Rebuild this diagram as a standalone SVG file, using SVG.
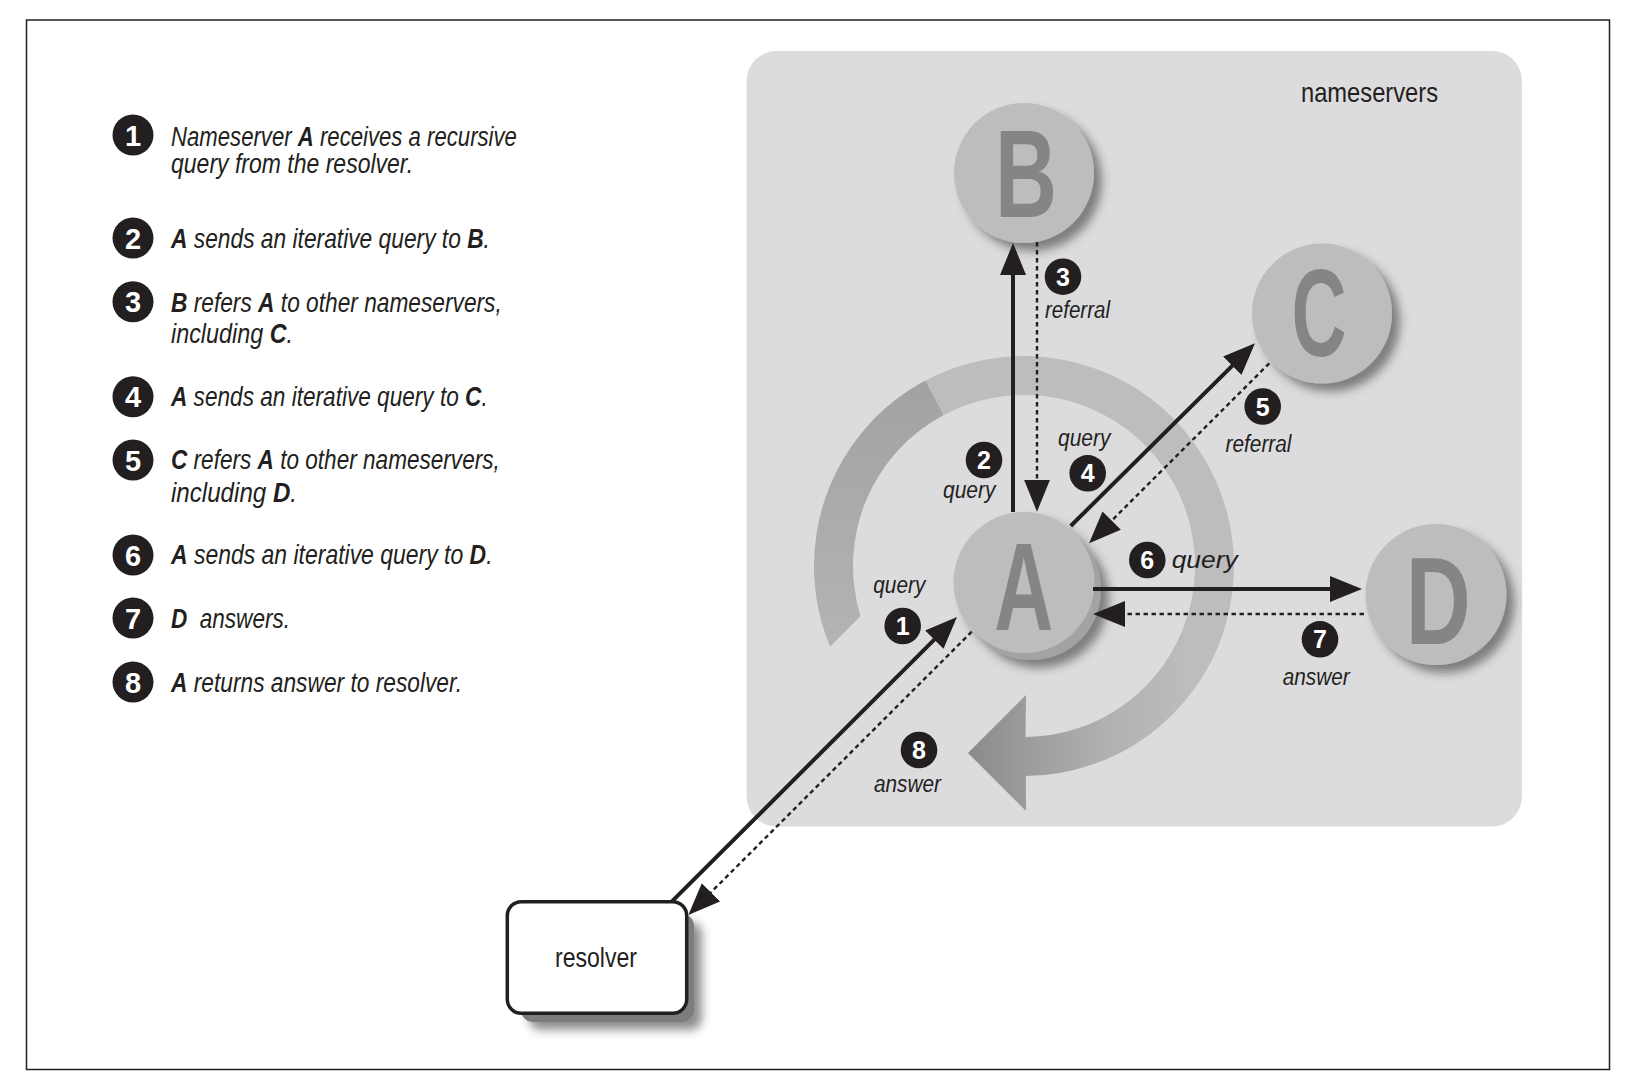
<svg xmlns="http://www.w3.org/2000/svg" width="1628" height="1084" viewBox="0 0 1628 1084">
<style>
.lg{font-family:"Liberation Sans",Arial,sans-serif;font-style:italic;font-size:27px;fill:#231f20;white-space:pre}
.b{font-weight:bold}
.lab{font-family:"Liberation Sans",Arial,sans-serif;font-style:italic;font-size:23px;fill:#231f20}
.up{font-family:"Liberation Sans",Arial,sans-serif;font-size:28px;fill:#231f20}
.num{font-family:"Liberation Sans",Arial,sans-serif;font-weight:bold;fill:#fff;text-anchor:middle}
.badge{fill:#231f20}
.big{font-family:"Liberation Sans",Arial,sans-serif;font-weight:bold;font-size:124px;fill:#858587;text-anchor:middle}
.ns{fill:#bdbdbf}
.solid{stroke:#231f20;stroke-width:4;fill:none;marker-end:url(#ah)}
.dot{stroke:#231f20;stroke-width:2.4;fill:none;stroke-dasharray:4.5 3.5;marker-end:url(#ah)}
</style>
<defs>
<marker id="ah" viewBox="0 0 32 26" refX="24" refY="13" markerWidth="32" markerHeight="26" markerUnits="userSpaceOnUse" orient="auto"><path d="M0,0L32,13L0,26z" fill="#231f20"/></marker>
<filter id="sh" x="-30%" y="-30%" width="170%" height="170%"><feGaussianBlur in="SourceAlpha" stdDeviation="5"/><feOffset dx="8" dy="8" result="o"/><feFlood flood-color="#333" flood-opacity="0.55"/><feComposite in2="o" operator="in"/><feMerge><feMergeNode/><feMergeNode in="SourceGraphic"/></feMerge></filter>
<linearGradient id="gArrow" gradientUnits="userSpaceOnUse" x1="1190" y1="0" x2="968" y2="0"><stop offset="0" stop-color="#bdbdbf"/><stop offset="0.4" stop-color="#b0b0b2"/><stop offset="0.7" stop-color="#9e9ea0"/><stop offset="1" stop-color="#8a8a8c"/></linearGradient>
<linearGradient id="gDark" gradientUnits="userSpaceOnUse" x1="0" y1="380" x2="0" y2="650"><stop offset="0" stop-color="#a2a1a3"/><stop offset="1" stop-color="#b4b4b6"/></linearGradient>
</defs>
<rect x="0" y="0" width="1628" height="1084" fill="#fff"/>
<rect id="frame" x="26.5" y="20" width="1583" height="1049.5" fill="none" stroke="#231f20" stroke-width="1.5"/>

<g id="legend">
<g id="legend-1"><circle class="badge" cx="133" cy="135" r="20.5"/><text class="num" x="133" y="145.5" font-size="29">1</text>
<text class="lg" transform="translate(171,146) scale(0.8207,1)">Nameserver <tspan class="b">A</tspan> receives a recursive</text>
<text class="lg" transform="translate(171,173) scale(0.852,1)">query from the resolver.</text></g>
<g id="legend-2"><circle class="badge" cx="133" cy="238" r="20.5"/><text class="num" x="133" y="248.5" font-size="29">2</text>
<text class="lg" transform="translate(171,248) scale(0.8436,1)"><tspan class="b">A</tspan> sends an iterative query to <tspan class="b">B</tspan>.</text></g>
<g id="legend-3"><circle class="badge" cx="133" cy="301.7" r="20.5"/><text class="num" x="133" y="312.2" font-size="29">3</text>
<text class="lg" transform="translate(171,311.7) scale(0.842,1)"><tspan class="b">B</tspan> refers <tspan class="b">A</tspan> to other nameservers,</text>
<text class="lg" transform="translate(171,342.7) scale(0.865,1)">including <tspan class="b">C</tspan>.</text></g>
<g id="legend-4"><circle class="badge" cx="133" cy="396.7" r="20.5"/><text class="num" x="133" y="407.2" font-size="29">4</text>
<text class="lg" transform="translate(171,405.7) scale(0.838,1)"><tspan class="b">A</tspan> sends an iterative query to <tspan class="b">C</tspan>.</text></g>
<g id="legend-5"><circle class="badge" cx="133" cy="460" r="20.5"/><text class="num" x="133" y="470.5" font-size="29">5</text>
<text class="lg" transform="translate(171,469) scale(0.837,1)"><tspan class="b">C</tspan> refers <tspan class="b">A</tspan> to other nameservers,</text>
<text class="lg" transform="translate(171,501.7) scale(0.894,1)">including <tspan class="b">D</tspan>.</text></g>
<g id="legend-6"><circle class="badge" cx="133" cy="555" r="20.5"/><text class="num" x="133" y="565.5" font-size="29">6</text>
<text class="lg" transform="translate(171,564) scale(0.851,1)"><tspan class="b">A</tspan> sends an iterative query to <tspan class="b">D</tspan>.</text></g>
<g id="legend-7"><circle class="badge" cx="133" cy="618" r="20.5"/><text class="num" x="133" y="628.5" font-size="29">7</text>
<text class="lg" transform="translate(171,628) scale(0.835,1)" xml:space="preserve"><tspan class="b">D</tspan>  answers.</text></g>
<g id="legend-8"><circle class="badge" cx="133" cy="682" r="20.5"/><text class="num" x="133" y="692.5" font-size="29">8</text>
<text class="lg" transform="translate(171,692) scale(0.8425,1)"><tspan class="b">A</tspan> returns answer to resolver.</text></g>
</g>

<g id="nameservers-panel">
<rect x="746.5" y="51" width="775.5" height="775.5" rx="30" fill="#dcdcde"/>
<text class="up" x="1301" y="102" textLength="137" lengthAdjust="spacingAndGlyphs">nameservers</text>
</g>

<g id="cycle-arrow">
<path d="M1223.9,630.9 A210 210 0 0 1 1025.8,776 L1026,811 L968,753 L1026,695 L1025.5,737 A171 171 0 0 0 1186.6,618.8 Z" fill="url(#gArrow)"/>
<path d="M925.4,380.6 A210 210 0 0 1 1221.3,637.8 L1184.7,624.5 A171 171 0 0 0 943.7,415 Z" fill="#bdbdbf"/>
<path d="M830.1,646.7 A210 210 0 0 1 925.4,380.6 L943.7,415 A171 171 0 0 0 860.5,616 Z" fill="url(#gDark)"/>
</g>

<g id="node-B" filter="url(#sh)"><circle class="ns" cx="1024" cy="173" r="70"/><text class="big" x="1026" y="217" textLength="62" lengthAdjust="spacingAndGlyphs">B</text></g>
<g id="node-C" filter="url(#sh)"><circle class="ns" cx="1322" cy="313.5" r="70"/><text class="big" x="1319" y="356" textLength="55" lengthAdjust="spacingAndGlyphs">C</text></g>
<g id="node-A" filter="url(#sh)"><circle cx="1031" cy="590" r="70" fill="#a3a3a5"/><circle class="ns" cx="1024" cy="582.5" r="70.5"/><text class="big" x="1023.7" y="630" textLength="59" lengthAdjust="spacingAndGlyphs">A</text></g>
<g id="node-D" filter="url(#sh)"><circle class="ns" cx="1436" cy="594.5" r="70.5"/><text class="big" x="1438.3" y="644" textLength="65" lengthAdjust="spacingAndGlyphs">D</text></g>

<g id="node-resolver">
<rect x="521" y="914" width="173" height="108" rx="12" fill="#7d7d7f" filter="url(#sh)"/>
<rect x="507.3" y="901.7" width="179.4" height="111.6" rx="14" fill="#fff" stroke="#231f20" stroke-width="3.5"/>
<text class="up" x="555" y="966.5" textLength="82" lengthAdjust="spacingAndGlyphs">resolver</text>
</g>

<g id="connectors">
<path class="solid" d="M1013,512 L1013,251"/>
<path class="dot" d="M1037,242 L1037,503.7"/>
<path class="solid" d="M1070.7,526 L1249.3,348.9"/>
<path class="dot" d="M1269.3,363.3 L1094.7,537.6"/>
<path class="solid" d="M1093,589 L1354,589"/>
<path class="dot" d="M1364,614 L1101,614"/>
<path class="solid" d="M671.7,901.7 L951.3,622.7"/>
<path class="dot" d="M971.7,631.7 L694,909.3"/>
</g>

<g id="labels">
<g id="label-1"><text class="lab" x="873.3" y="593" textLength="52" lengthAdjust="spacingAndGlyphs">query</text><circle class="badge" cx="902.7" cy="626" r="18.3"/><text class="num" x="902.7" y="635" font-size="25">1</text></g>
<g id="label-2"><circle class="badge" cx="984" cy="460" r="18.3"/><text class="num" x="984" y="469" font-size="25">2</text><text class="lab" x="943" y="498" textLength="52.5" lengthAdjust="spacingAndGlyphs">query</text></g>
<g id="label-3"><circle class="badge" cx="1063" cy="276.7" r="18.3"/><text class="num" x="1063" y="285.7" font-size="25">3</text><text class="lab" x="1045" y="318" textLength="65" lengthAdjust="spacingAndGlyphs">referral</text></g>
<g id="label-4"><text class="lab" x="1058" y="446" textLength="52.5" lengthAdjust="spacingAndGlyphs">query</text><circle class="badge" cx="1087.7" cy="473.3" r="18.3"/><text class="num" x="1087.7" y="482.3" font-size="25">4</text></g>
<g id="label-5"><circle class="badge" cx="1262.7" cy="406.5" r="18.3"/><text class="num" x="1262.7" y="415.5" font-size="25">5</text><text class="lab" x="1225.5" y="451.7" textLength="66" lengthAdjust="spacingAndGlyphs">referral</text></g>
<g id="label-6"><circle class="badge" cx="1147.3" cy="560" r="18.3"/><text class="num" x="1147.3" y="569" font-size="25">6</text><text class="lab" x="1171.7" y="568" font-size="29" textLength="66" lengthAdjust="spacingAndGlyphs">query</text></g>
<g id="label-7"><circle class="badge" cx="1320" cy="639.3" r="18.3"/><text class="num" x="1320" y="648.3" font-size="25">7</text><text class="lab" x="1282.7" y="685" textLength="67" lengthAdjust="spacingAndGlyphs">answer</text></g>
<g id="label-8"><circle class="badge" cx="919" cy="750" r="18.3"/><text class="num" x="919" y="759" font-size="25">8</text><text class="lab" x="874" y="791.5" textLength="67" lengthAdjust="spacingAndGlyphs">answer</text></g>
</g>
</svg>
